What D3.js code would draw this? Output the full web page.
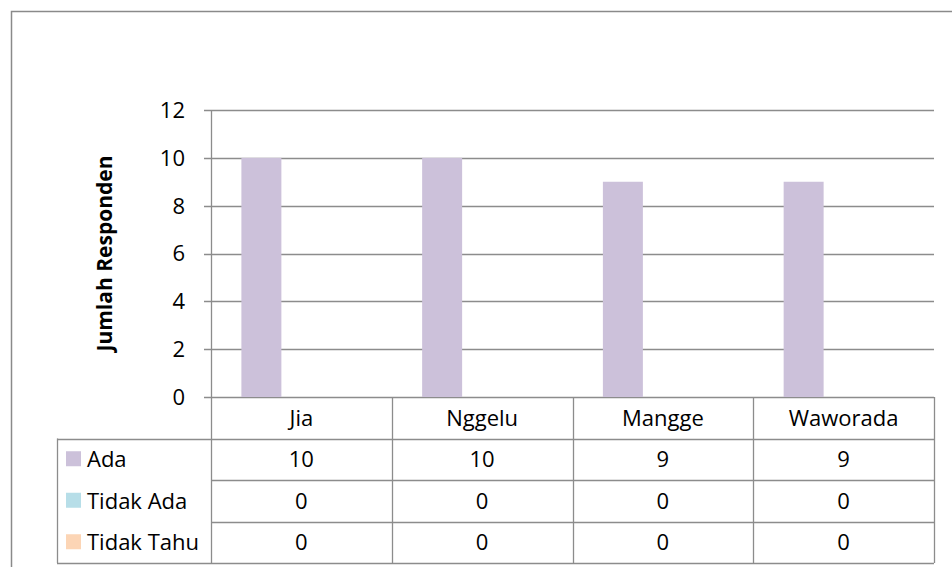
<!DOCTYPE html>
<html lang="en">
<head>
    <meta charset="UTF-8">
    <title>Jumlah Responden</title>
    <script src="https://d3js.org/d3.v7.min.js"></script>
    <style>
        body { margin: 0; background: #fff; }
        svg text { font-family: "Open Sans", Lato, sans-serif; fill: #000; font-size: 22px; }
    </style>
</head>
<body>
<div id="chart"></div>
<script>
    // data
    var categories = ["Jia", "Nggelu", "Mangge", "Waworada"];
    var seriesNames = ["Ada", "Tidak Ada", "Tidak Tahu"];
    var ada = [10, 10, 9, 9];
    var tidakAda = [0, 0, 0, 0];
    var tidakTahu = [0, 0, 0, 0];
    var yTicks = [0, 2, 4, 6, 8, 10, 12];
    var colors = ["#ccc1da", "#b7dee8", "#fcd5b5"];

    var series = [ada, tidakAda, tidakTahu];

    var width = 952, height = 567;
    var plotLeft = 211, plotRight = 934, plotTop = 110, plotBottom = 397;
    var rowH = 41.5, tableLeft = 57;

    var svg = d3.select("#chart").append("svg")
        .attr("width", width)
        .attr("height", height);

    // outer border (right and bottom cut off in the original)
    svg.append("path")
        .attr("d", "M11.5," + height + "V11.5H" + width)
        .attr("fill", "none")
        .attr("stroke", "#8a8a8a")
        .attr("stroke-width", 1.5);

    var x = d3.scaleBand().domain(categories).range([plotLeft, plotRight]);
    var xs = d3.scaleBand().domain(seriesNames).range([0, x.bandwidth()])
        .paddingOuter(0.76);
    var y = d3.scaleLinear().domain([0, 12]).range([plotBottom, plotTop]);

    // gridlines
    svg.append("g")
        .selectAll("line")
        .data(yTicks)
        .enter()
        .append("line")
        .attr("x1", plotLeft - 7)
        .attr("x2", plotRight)
        .attr("y1", function (d) { return Math.round(y(d)) + 0.5; })
        .attr("y2", function (d) { return Math.round(y(d)) + 0.5; })
        .attr("stroke", "#8c8c8c")
        .attr("stroke-width", 1.3);

    // y axis line
    svg.append("line")
        .attr("x1", plotLeft + 0.5).attr("x2", plotLeft + 0.5)
        .attr("y1", plotTop).attr("y2", plotBottom)
        .attr("stroke", "#8c8c8c").attr("stroke-width", 1.3);

    // tick labels
    svg.append("g")
        .selectAll("text")
        .data(yTicks)
        .enter()
        .append("text")
        .attr("x", 185)
        .attr("y", function (d) { return y(d); })
        .attr("dy", "0.36em")
        .attr("text-anchor", "end")
        .text(function (d) { return d; });

    // axis title
    svg.append("text")
        .attr("transform", "translate(112," + ((plotTop + plotBottom) / 2) + ") rotate(-90)")
        .attr("text-anchor", "middle")
        .style("font-size", "21px")
        .style("font-weight", "bold")
        .text("Jumlah Responden");

    // bars
    series.forEach(function (vals, si) {
        svg.append("g")
            .selectAll("rect")
            .data(vals)
            .enter()
            .append("rect")
            .attr("x", function (d, i) { return x(categories[i]) + xs(seriesNames[si]); })
            .attr("y", function (d) { return y(d); })
            .attr("width", xs.bandwidth())
            .attr("height", function (d) { return plotBottom - y(d); })
            .attr("fill", colors[si]);
    });

    // data table
    var table = svg.append("g").attr("stroke", "#8c8c8c").attr("stroke-width", 1.3);
    var tableBottom = plotBottom + rowH * 4;
    // horizontal lines
    for (var r = 1; r <= 4; r++) {
        table.append("line")
            .attr("x1", r === 1 ? tableLeft : plotLeft).attr("x2", plotRight)
            .attr("y1", Math.round(plotBottom + rowH * r) + 0.5)
            .attr("y2", Math.round(plotBottom + rowH * r) + 0.5);
    }
    table.append("line")
        .attr("x1", tableLeft).attr("x2", plotLeft)
        .attr("y1", Math.round(tableBottom) + 0.5).attr("y2", Math.round(tableBottom) + 0.5);
    // vertical lines
    var vx = categories.map(function (c) { return x(c); }).concat([plotRight]);
    vx.forEach(function (v) {
        table.append("line")
            .attr("x1", Math.round(v) + 0.5).attr("x2", Math.round(v) + 0.5)
            .attr("y1", plotBottom).attr("y2", tableBottom);
    });
    table.append("line")
        .attr("x1", tableLeft + 0.5).attr("x2", tableLeft + 0.5)
        .attr("y1", plotBottom + rowH).attr("y2", tableBottom);

    // header
    svg.append("g")
        .selectAll("text")
        .data(categories)
        .enter()
        .append("text")
        .attr("x", function (d) { return x(d) + x.bandwidth() / 2; })
        .attr("y", plotBottom + rowH / 2)
        .attr("dy", "0.36em")
        .attr("text-anchor", "middle")
        .text(function (d) { return d; });

    // rows
    series.forEach(function (vals, si) {
        var cy = plotBottom + rowH * (si + 1) + rowH / 2;
        svg.append("rect")
            .attr("x", 66).attr("y", cy - 8)
            .attr("width", 15).attr("height", 15)
            .attr("fill", colors[si]);
        svg.append("text")
            .attr("x", 87).attr("y", cy)
            .attr("dy", "0.36em")
            .text(seriesNames[si]);
        svg.append("g")
            .selectAll("text")
            .data(vals)
            .enter()
            .append("text")
            .attr("x", function (d, i) { return x(categories[i]) + x.bandwidth() / 2; })
            .attr("y", cy)
            .attr("dy", "0.36em")
            .attr("text-anchor", "middle")
            .text(function (d) { return d; });
    });
</script>
</body>
</html>
